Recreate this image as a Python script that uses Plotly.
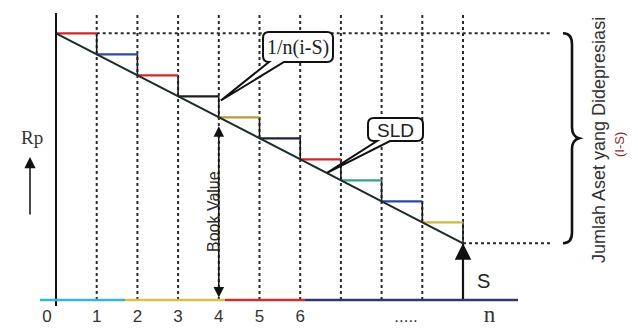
import plotly.graph_objects as go

# ---------------- data ----------------
years = [0, 1, 2, 3, 4, 5, 6, 7, 8, 9, 10]
book_value = [127, 117, 107, 97, 87, 77, 67, 57, 47, 37, 27]
initial_cost = 127
salvage = 27
step_colors = ['#cc2a2a', '#3048a8', '#cc2a2a', '#1e1e1e', '#b89a3a',
               '#1e2438', '#cc2a2a', '#3aa08a', '#2848a8', '#c8b848']
tick_pos = [-0.22, 1, 2, 3, 4, 5, 6, 8.6, 10.65]
tick_text = ['0', '1', '2', '3', '4', '5', '6', '.....',
             '<span style="font-family:Liberation Serif;font-size:23px">n</span>']

# ---------------- layout helpers (pixel <-> data) ----------------
W, H = 638, 332
PX0, PXY = 56.0, 40.7      # pixel of year 0, pixels per year
PY0, PPV = 300.0, 2.1      # pixel of value 0, pixels per value unit


def X(px):
    return (px - PX0) / PXY


def Y(py):
    return (PY0 - py) / PPV


def P(px, py):
    return f"{X(px):.4f},{Y(py):.4f}"


xr = [X(0), X(W)]
yr = [Y(H), Y(0)]

fig = go.Figure()

# vertical step segments
vx, vy = [], []
for k in range(len(years) - 1):
    vx += [years[k + 1], years[k + 1], None]
    vy += [book_value[k], book_value[k + 1], None]
fig.add_trace(go.Scatter(x=vx, y=vy, mode='lines',
                         line=dict(color='#1a1a1a', width=1.6),
                         hoverinfo='skip', showlegend=False))
# horizontal step segments
for k in range(len(years) - 1):
    fig.add_trace(go.Scatter(x=[years[k], years[k + 1]],
                             y=[book_value[k], book_value[k]],
                             mode='lines',
                             line=dict(color=step_colors[k], width=2.2),
                             hoverinfo='skip', showlegend=False))
# straight-line depreciation
fig.add_trace(go.Scatter(x=years, y=book_value, mode='lines',
                         line=dict(color='#1d2b28', width=2),
                         hoverinfo='skip', showlegend=False))

shapes = []
# y axis
shapes.append(dict(type='line', x0=0, x1=0, y0=Y(306), y1=Y(13),
                   line=dict(color='#111', width=2), layer='above'))
# x axis (scan colour fringes)
for a, b, c in [(40, 125, '#3ab4d4'), (125, 225, '#d2c24a'),
                (225, 305, '#c83232'), (305, 518, '#33386a')]:
    shapes.append(dict(type='line', x0=X(a), x1=X(b), y0=0, y1=0,
                       line=dict(color=c, width=2.5), layer='above'))
# dotted year guides
for yv in years[1:]:
    shapes.append(dict(type='line', x0=yv, x1=yv, y0=0, y1=Y(13),
                       line=dict(color='#2a2a2a', width=2, dash='dot'),
                       layer='below'))
# dotted levels for initial cost and salvage
shapes.append(dict(type='line', x0=years[1], x1=X(550), y0=initial_cost,
                   y1=initial_cost,
                   line=dict(color='#2a2a2a', width=2, dash='dot'), layer='below'))
shapes.append(dict(type='line', x0=years[-1], x1=X(552), y0=salvage, y1=salvage,
                   line=dict(color='#2a2a2a', width=2, dash='dot'), layer='below'))

# curly brace spanning (I - S)
ty = PY0 - initial_cost * PPV
by = PY0 - salvage * PPV
my = (ty + by) / 2
bx0, bx1, bx2 = 563, 572, 579
brace = (f"M {P(bx0, ty)} Q {P(bx1, ty)} {P(bx1, ty + 11)} L {P(bx1, my - 11)} "
         f"Q {P(bx1, my - 2)} {P(bx2, my)} Q {P(bx1, my + 2)} {P(bx1, my + 11)} "
         f"L {P(bx1, by - 11)} Q {P(bx1, by)} {P(bx0, by)}")
shapes.append(dict(type='path', path=brace, line=dict(color='#111', width=2.6)))


def callout(x0, y0, x1, y1, t1, t2, tipx, tipy, r=6):
    return (f"M {P(x0 + r, y0)} L {P(x1 - r, y0)} Q {P(x1, y0)} {P(x1, y0 + r)} "
            f"L {P(x1, y1 - r)} Q {P(x1, y1)} {P(x1 - r, y1)} L {P(t2, y1)} "
            f"L {P(tipx, tipy)} L {P(t1, y1)} L {P(x0 + r, y1)} "
            f"Q {P(x0, y1)} {P(x0, y1 - r)} L {P(x0, y0 + r)} Q {P(x0, y0)} {P(x0 + r, y0)} Z")


tip1 = (PX0 + (years[4] + 0.05) * PXY, PY0 - (book_value[3] - 2) * PPV)
shapes.append(dict(type='path', path=callout(263, 32, 333, 62, 269, 284, *tip1),
                   line=dict(color='#111', width=2), fillcolor='white',
                   layer='above'))
tip2 = (PX0 + 6.66 * PXY, PY0 - 60.5 * PPV)
shapes.append(dict(type='path', path=callout(368, 118, 423, 141, 377, 390, *tip2),
                   line=dict(color='#111', width=2), fillcolor='white',
                   layer='above'))

ann = []
SANS = 'Liberation Sans'
# Book value double arrow
ann.append(dict(x=years[4], y=book_value[4], ax=years[4], ay=0,
                xref='x', yref='y', axref='x', ayref='y', text='',
                showarrow=True, arrowhead=2, startarrowhead=2,
                arrowside='end+start', arrowsize=1.4, arrowwidth=1.5,
                arrowcolor='#111', standoff=9, startstandoff=1))
ann.append(dict(x=X(213), y=Y(212), xref='x', yref='y', text='Book Value',
                textangle=-90, showarrow=False,
                font=dict(family='Liberation Sans Narrow, ' + SANS, size=16,
                          color='#2a2a2a')))
# salvage arrow
ann.append(dict(x=years[-1], y=salvage, ax=years[-1], ay=0,
                xref='x', yref='y', axref='x', ayref='y', text='',
                showarrow=True, arrowhead=2, arrowsize=1.5, arrowwidth=2.2,
                arrowcolor='#111'))
ann.append(dict(x=X(483), y=Y(281), xref='x', yref='y', text='S',
                showarrow=False, font=dict(family=SANS, size=20, color='#222')))
# Rp label and arrow
ann.append(dict(x=X(32), y=Y(137), xref='x', yref='y', text='Rp',
                showarrow=False,
                font=dict(family='Liberation Serif', size=19, color='#333')))
ann.append(dict(x=X(30), y=Y(157), ax=X(30), ay=Y(216),
                xref='x', yref='y', axref='x', ayref='y', text='',
                showarrow=True, arrowhead=2, arrowsize=1.5, arrowwidth=1.5,
                arrowcolor='#111'))
# callout texts
ann.append(dict(x=X(298), y=Y(47), xref='x', yref='y', text='1/n(i-S)',
                showarrow=False,
                font=dict(family='Liberation Serif', size=20, color='#222')))
ann.append(dict(x=X(395), y=Y(130), xref='x', yref='y', text='SLD',
                showarrow=False, font=dict(family=SANS, size=19, color='#222')))
# right side labels
ann.append(dict(x=X(599), y=Y(140), xref='x', yref='y',
                text='Jumlah Aset yang Didepresiasi', textangle=-90,
                showarrow=False, font=dict(family=SANS, size=18, color='#333')))
ann.append(dict(x=X(619), y=Y(145), xref='x', yref='y', text='(I-S)',
                textangle=-90, showarrow=False,
                font=dict(family=SANS, size=13, color='#8a2a2a')))

fig.update_layout(
    width=W, height=H,
    margin=dict(l=0, r=0, t=0, b=0),
    paper_bgcolor='white', plot_bgcolor='white',
    showlegend=False,
    shapes=shapes, annotations=ann,
    xaxis=dict(range=xr, showgrid=False, zeroline=False, showline=False,
               tickmode='array', tickvals=tick_pos, ticktext=tick_text,
               ticks='', anchor='free', position=(H - PY0) / H,
               automargin=False, ticklabelstandoff=4,
               tickfont=dict(family=SANS, size=17, color='#333')),
    yaxis=dict(range=yr, showgrid=False, zeroline=False, showline=False,
               showticklabels=False, automargin=False),
)

fig.write_html("out.html", config={'displayModeBar': False},
               post_script="document.body.style.margin='0px';"
                           "document.body.style.overflow='hidden';")
